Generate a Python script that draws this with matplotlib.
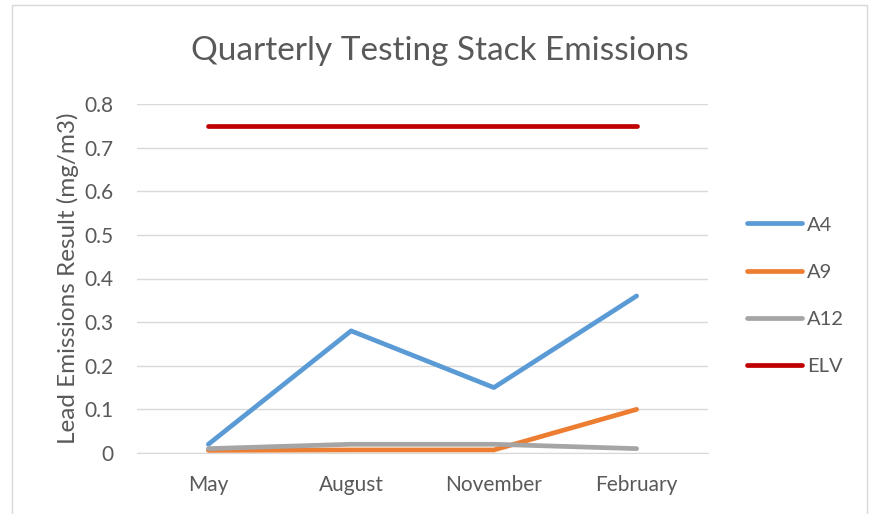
import matplotlib
matplotlib.use('Agg')
import matplotlib.pyplot as plt
from matplotlib.patches import Rectangle

plt.rcParams['font.family'] = ['Lato', 'DejaVu Sans']

months = ['May', 'August', 'November', 'February']
a4 = [0.02, 0.28, 0.15, 0.36]
a9 = [0.006, 0.007, 0.007, 0.10]
a12 = [0.01, 0.02, 0.02, 0.01]
elv = [0.75, 0.75, 0.75, 0.75]
yticks = [0, 0.1, 0.2, 0.3, 0.4, 0.5, 0.6, 0.7, 0.8]
ytick_labels = ['0', '0.1', '0.2', '0.3', '0.4', '0.5', '0.6', '0.7', '0.8']

series = [('A4', a4, '#5b9bd5'), ('A9', a9, '#ed7d31'),
          ('A12', a12, '#a5a5a5'), ('ELV', elv, '#c00000')]

fig = plt.figure(figsize=(8.7, 5.14), dpi=100)
fig.patches.append(Rectangle((12 / 870, -0.1), 855 / 870, 1.1 - 5 / 514,
                             transform=fig.transFigure, fill=False,
                             edgecolor='#d9d9d9', linewidth=1))
ax = fig.add_axes([137 / 870, 1 - 453 / 514, 571 / 870, 349 / 514])

x = list(range(len(months)))
for name, vals, col in series:
    ax.plot(x, vals, color=col, linewidth=3.4, solid_capstyle='round',
            solid_joinstyle='round', label=name)

ax.set_xlim(-0.5, len(months) - 0.5)
ax.set_ylim(0, 0.8)
ax.set_yticks(yticks)
ax.set_yticklabels(ytick_labels)
ax.set_xticks(x)
ax.set_xticklabels(months)
ax.yaxis.grid(True, color='#d9d9d9', linewidth=1)
ax.set_axisbelow(True)
for s in ['top', 'right', 'left']:
    ax.spines[s].set_visible(False)
ax.spines['bottom'].set_color('#d9d9d9')
ax.tick_params(length=0, labelsize=15, colors='#595959', pad=16)
ax.tick_params(axis='y', pad=17)
ax.set_ylabel('Lead Emissions Result (mg/m3)', fontsize=17.5, color='#595959',
              labelpad=4)
fig.text(440 / 870, 1 - 51 / 514, 'Quarterly Testing Stack Emissions',
         fontsize=24, color='#595959', ha='center', va='center')

leg = ax.legend(loc='center left', bbox_to_anchor=(1.037, 0.45), frameon=False,
                fontsize=14.5, labelcolor='#595959', handlelength=2.7,
                handletextpad=0.25, labelspacing=1.5)

fig.savefig('out.png', dpi=100)
